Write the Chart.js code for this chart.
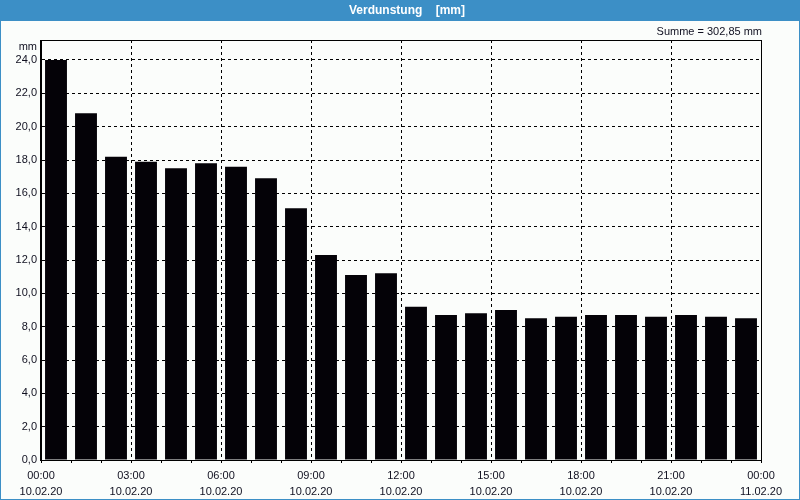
<!DOCTYPE html>
<html>
<head>
<meta charset="utf-8">
<script src="https://cdn.jsdelivr.net/npm/chart.js@4/dist/chart.umd.min.js"></script>
<style>
  html, body { margin: 0; padding: 0; background: #fbfdfb; }
  #wrap { width: 800px; height: 500px; position: relative; }
</style>
</head>
<body>
<div id="wrap"><canvas id="c" width="800" height="500"></canvas></div>
<script>
// ---- data ----
const hourStarts = [0,1,2,3,4,5,6,7,8,9,10,11,12,13,14,15,16,17,18,19,20,21,22,23];
const verdunstung = [24.0,20.8,18.2,17.9,17.5,17.8,17.6,16.9,15.1,12.3,11.1,11.2,9.2,8.7,8.8,9.0,8.5,8.6,8.7,8.7,8.6,8.7,8.6,8.5];
const timeLabels = ['00:00','03:00','06:00','09:00','12:00','15:00','18:00','21:00','00:00'];
const dateLabels = ['10.02.20','10.02.20','10.02.20','10.02.20','10.02.20','10.02.20','10.02.20','10.02.20','11.02.20'];
const yTicks = [0,2,4,6,8,10,12,14,16,18,20,22,24];
const titleText = 'Verdunstung    [mm]';
const sumText = 'Summe = 302,85 mm';
const unitText = 'mm';

const FONT = '"Liberation Sans", Arial, sans-serif';
const TXT = '#101020';

const decor = {
  id: 'decor',
  beforeDraw(chart) {
    const ctx = chart.ctx, W = chart.width, H = chart.height;
    ctx.save();
    ctx.fillStyle = '#fbfdfb';
    ctx.fillRect(0, 0, W, H);
    ctx.fillStyle = '#3c8fc6';
    ctx.fillRect(0, 0, W, 21);
    ctx.fillRect(0, 0, 1, H);
    ctx.fillRect(W - 1, 0, 1, H);
    ctx.fillRect(0, H - 1, W, 1);
    ctx.fillStyle = '#ffffff';
    ctx.font = 'bold 12px ' + FONT;
    ctx.textAlign = 'center';
    ctx.textBaseline = 'middle';
    ctx.fillText(titleText, 407, 11);
    const a = chart.chartArea;
    ctx.fillStyle = TXT;
    ctx.font = '11px ' + FONT;
    ctx.textAlign = 'right';
    ctx.fillText(sumText, a.right + 1, 32);
    ctx.fillText(unitText, a.left - 4, 47);
    ctx.restore();
  },
  afterDatasetsDraw(chart) {
    const ctx = chart.ctx, a = chart.chartArea;
    ctx.save();
    ctx.strokeStyle = '#000';
    ctx.lineWidth = 1;
    ctx.strokeRect(Math.round(a.left) - 0.5, Math.round(a.top) + 0.5,
                   Math.round(a.right - a.left) + 1, Math.round(a.bottom - a.top));
    ctx.restore();
  }
};

new Chart(document.getElementById('c'), {
  type: 'bar',
  data: {
    datasets: [{
      data: hourStarts.map((h, i) => ({ x: h + 0.5, y: verdunstung[i] })),
      backgroundColor: '#040207',
      borderWidth: 0,
      barPercentage: 0.73,
      categoryPercentage: 1.0
    }]
  },
  options: {
    responsive: false,
    animation: false,
    devicePixelRatio: 1,
    layout: { padding: { left: 0, right: 39, top: 40, bottom: 0 } },
    plugins: { legend: { display: false }, tooltip: { enabled: false }, title: { display: false } },
    scales: {
      x: {
        type: 'linear',
        offset: false,
        min: 0, max: 24,
        afterFit(s) { s.height = 40; s.paddingLeft = 0; s.paddingRight = 0; },
        ticks: {
          stepSize: 1,
          autoSkip: false,
          maxRotation: 0,
          padding: 5,
          color: TXT,
          font: { family: FONT, size: 11, lineHeight: 1.45 },
          callback: (v) => (v % 3 === 0) ? [timeLabels[v / 3], dateLabels[v / 3]] : ''
        },
        grid: {
          offset: false,
          color: (c) => (c.tick && c.tick.value % 3 === 0) ? '#000' : 'rgba(0,0,0,0)',
          tickColor: '#000',
          tickLength: 3,
          drawTicks: true,
          lineWidth: 1
        },
        border: { display: true, color: '#000', width: 1, dash: [3, 3] }
      },
      y: {
        min: 0, max: 25.2,
        afterFit(s) { s.width = 41; s.paddingTop = 0; s.paddingBottom = 0; },
        afterBuildTicks(s) { s.ticks = yTicks.map(v => ({ value: v })); },
        ticks: {
          stepSize: 2,
          padding: 4,
          color: TXT,
          font: { family: FONT, size: 11 },
          callback: (v) => v.toFixed(1).replace('.', ',')
        },
        grid: {
          color: '#000',
          drawTicks: false,
          lineWidth: 1
        },
        border: { display: true, color: '#000', width: 1, dash: [3, 3] }
      }
    }
  },
  plugins: [decor]
});
</script>
</body>
</html>
